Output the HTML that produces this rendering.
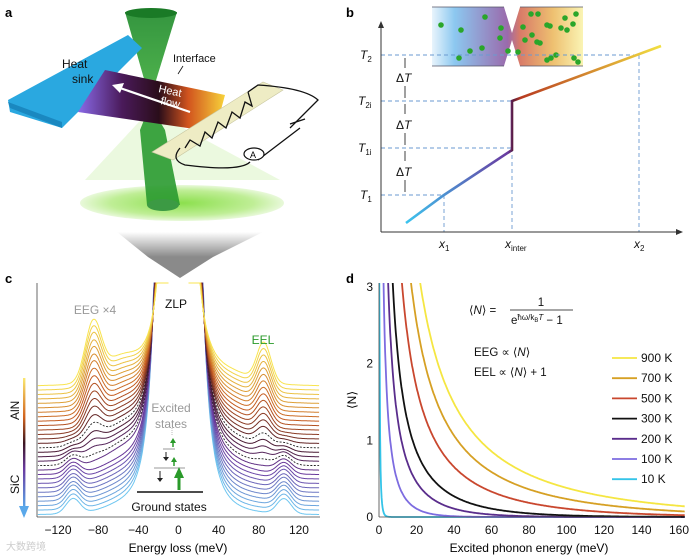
<!DOCTYPE html>
<html><head><meta charset="utf-8"><style>
html,body{margin:0;padding:0;background:#fff}
svg{display:block;font-family:"Liberation Sans",Arial,sans-serif}
</style></head><body>
<svg id="fig" width="693" height="558" viewBox="0 0 693 558" xmlns="http://www.w3.org/2000/svg">
<defs>
<linearGradient id="gBar" x1="0" y1="0" x2="1" y2="0"><stop offset="0" stop-color="#8a6ae8"/><stop offset="0.3" stop-color="#4a1a5a"/><stop offset="0.55" stop-color="#2a0d1a"/><stop offset="0.75" stop-color="#d2541e"/><stop offset="1" stop-color="#f7d23a"/></linearGradient>
<linearGradient id="gGrey" x1="0" y1="0" x2="0" y2="1"><stop offset="0" stop-color="#fff"/><stop offset="1" stop-color="#8a8a8a"/></linearGradient>
<radialGradient id="gGlow"><stop offset="0" stop-color="#7fdc3a"/><stop offset="0.7" stop-color="#b8ec8a"/><stop offset="1" stop-color="#e6f8d6"/></radialGradient>
<linearGradient id="gCone" x1="0" y1="0" x2="0" y2="1"><stop offset="0" stop-color="#1e8a2a"/><stop offset="1" stop-color="#3fae3a"/></linearGradient>
<linearGradient id="gInset" x1="0" y1="0" x2="1" y2="0"><stop offset="0" stop-color="#e8f4fc"/><stop offset="0.15" stop-color="#8cc8f0"/><stop offset="0.5" stop-color="#9a6aac"/><stop offset="0.58" stop-color="#d87a68"/><stop offset="0.8" stop-color="#eec070"/><stop offset="1" stop-color="#faf4b4"/></linearGradient>
<linearGradient id="gLine" x1="406" y1="0" x2="661" y2="0" gradientUnits="userSpaceOnUse"><stop offset="0" stop-color="#3cc4ee"/><stop offset="0.4" stop-color="#6a3aa0"/><stop offset="0.42" stop-color="#5a1a3a"/><stop offset="0.45" stop-color="#b83a20"/><stop offset="1" stop-color="#f2e040"/></linearGradient>
<linearGradient id="gCbar" x1="0" y1="0" x2="0" y2="1"><stop offset="0" stop-color="#fbe870"/><stop offset="0.3" stop-color="#d2641e"/><stop offset="0.5" stop-color="#3b1520"/><stop offset="0.7" stop-color="#6a3aa0"/><stop offset="1" stop-color="#5aa8ea"/></linearGradient>
<clipPath id="clipD"><rect x="379" y="283" width="306" height="240"/></clipPath>
</defs>

<g>
<text x="5" y="17" font-size="13" font-weight="bold">a</text>
<ellipse cx="182" cy="203" rx="102" ry="18" fill="url(#gGlow)" opacity="0.9"/>
<path d="M85,180 L150,110 L280,180 Z" fill="#d8f4c0" opacity="0.5"/>
<polygon points="125,12 177,12 150,100" fill="url(#gCone)" opacity="0.9"/>
<ellipse cx="151" cy="13" rx="26" ry="5" fill="#1a7a26"/>
<polygon points="140,130 150,105 165,130 180,205 147,205" fill="#2a9a30" opacity="0.9"/>
<ellipse cx="163" cy="205" rx="16" ry="6" fill="#3c9a44"/>
<polygon points="8,100 128,35 142,48 62,128 10,112" fill="#2aa8e0"/>
<polygon points="10,108 62,128 62,122 8,102" fill="#1a88c0"/>
<text x="62" y="68" font-size="12" fill="#111">Heat</text>
<text x="72" y="83" font-size="12" fill="#111">sink</text>
<polygon points="105,70 225,95 215,132 78,112" fill="url(#gBar)"/>
<line x1="190" y1="112" x2="120" y2="88" stroke="#fff" stroke-width="2.2"/>
<polygon points="112,85 124,83 120,93" fill="#fff"/>
<text x="158" y="92" font-size="11" fill="#fff" transform="rotate(12 158 92)">Heat</text>
<text x="160" y="104" font-size="11" fill="#fff" transform="rotate(12 160 104)">flow</text>
<text x="173" y="62" font-size="11" fill="#111">Interface</text>
<line x1="183" y1="66" x2="178" y2="74" stroke="#111" stroke-width="0.8"/>
<polygon points="152,152 263,82 283,90 173,160" fill="#eeecc4" stroke="#c8c6a0" stroke-width="0.6"/>
<path d="M248,92 L258,85 Q305,88 318,100 L290,128 M258,160 L300,128 M250,162 Q240,172 185,165 Q170,160 180,148 M185,148 L190,140 200,146 205,132 212,138 218,122 226,128 232,112 240,118 245,102 252,106 248,92" fill="none" stroke="#111" stroke-width="1.3"/>
<line x1="290" y1="124" x2="305" y2="119" stroke="#111" stroke-width="1.3"/>
<ellipse cx="254" cy="154" rx="10" ry="6" fill="#fff" stroke="#111" stroke-width="1.2"/>
<text x="250" y="158" font-size="9">A</text>
<polygon points="117,232 263,232 213,257 148,257" fill="url(#gGrey)"/>
<polygon points="148,257 213,257 180,278" fill="#8a8a8a"/>
</g>

<g>
<text x="346" y="17" font-size="13" font-weight="bold">b</text>
<polygon points="432,7 504,7 512,33 520,7 583,7 583,66 520,66 512,40 504,66 432,66" fill="url(#gInset)"/>
<line x1="432" y1="7" x2="504" y2="7" stroke="#556" stroke-width="0.8"/><line x1="520" y1="7" x2="583" y2="7" stroke="#556" stroke-width="0.8"/>
<line x1="432" y1="66" x2="504" y2="66" stroke="#556" stroke-width="0.8"/><line x1="520" y1="66" x2="583" y2="66" stroke="#556" stroke-width="0.8"/>
<g id="dots" fill="#2aa62a"></g>
<g stroke="#6a9ad0" stroke-dasharray="4,3" stroke-width="0.9" fill="none">
<line x1="381" y1="55" x2="639" y2="55"/><line x1="381" y1="101" x2="512" y2="101"/><line x1="381" y1="148" x2="512" y2="148"/><line x1="381" y1="195" x2="444" y2="195"/>
<line x1="444" y1="195" x2="444" y2="232"/><line x1="512" y1="148" x2="512" y2="232"/><line x1="639" y1="55" x2="639" y2="232"/>
</g>
<line x1="381" y1="232" x2="381" y2="26" stroke="#333" stroke-width="1"/><polygon points="378,28 384,28 381,21" fill="#333"/>
<line x1="381" y1="232" x2="678" y2="232" stroke="#333" stroke-width="1"/><polygon points="676,229 676,235 683,232" fill="#333"/>
<polyline points="406,223 444,195 512,150 512,101 661,46" fill="none" stroke="url(#gLine)" stroke-width="2.6"/>
<g font-size="12" font-style="italic" fill="#111">
<text x="360" y="59">T<tspan font-size="8" font-style="normal" dy="3">2</tspan></text>
<text x="358" y="105">T<tspan font-size="8" font-style="normal" dy="3">2i</tspan></text>
<text x="358" y="152">T<tspan font-size="8" font-style="normal" dy="3">1i</tspan></text>
<text x="360" y="199">T<tspan font-size="8" font-style="normal" dy="3">1</tspan></text>
<text x="439" y="248">x<tspan font-size="8" font-style="normal" dy="3">1</tspan></text>
<text x="505" y="248">x<tspan font-size="8" font-style="normal" dy="3">inter</tspan></text>
<text x="634" y="248">x<tspan font-size="8" font-style="normal" dy="3">2</tspan></text>
<text x="396" y="82" font-style="normal">Δ<tspan font-style="italic">T</tspan></text>
<text x="396" y="129" font-style="normal">Δ<tspan font-style="italic">T</tspan></text>
<text x="396" y="176" font-style="normal">Δ<tspan font-style="italic">T</tspan></text>
</g>
<g stroke="#111" stroke-width="0.8" fill="#111">
<line x1="405" y1="58" x2="405" y2="68"/><line x1="405" y1="86" x2="405" y2="98"/>
<line x1="405" y1="104" x2="405" y2="114"/><line x1="405" y1="133" x2="405" y2="145"/>
<line x1="405" y1="151" x2="405" y2="161"/><line x1="405" y1="180" x2="405" y2="192"/>
</g>
</g>

<g>
<text x="5" y="283" font-size="13" font-weight="bold">c</text>
<g id="spectra" fill="none"></g>
<line x1="37" y1="283" x2="37" y2="517" stroke="#444" stroke-width="0.8"/>
<line x1="37" y1="517" x2="320" y2="517" stroke="#444" stroke-width="0.8"/>
<g id="cTicks" font-size="12" text-anchor="middle" fill="#111"></g>
<text x="178" y="552" font-size="12" text-anchor="middle">Energy loss (meV)</text>
<text x="95" y="314" font-size="12" fill="#999" text-anchor="middle">EEG ×4</text>
<text x="176" y="308" font-size="12" fill="#111" text-anchor="middle">ZLP</text>
<text x="263" y="344" font-size="12" fill="#2a9a2a" text-anchor="middle">EEL</text>
<text x="171" y="412" font-size="12" fill="#999" text-anchor="middle">Excited</text>
<text x="171" y="428" font-size="12" fill="#999" text-anchor="middle">states</text>
<text x="169" y="511" font-size="12" fill="#111" text-anchor="middle">Ground states</text>
<line x1="137" y1="492" x2="203" y2="492" stroke="#111" stroke-width="1.5"/>
<line x1="154" y1="468" x2="185" y2="468" stroke="#999" stroke-width="1"/>
<line x1="163" y1="449" x2="175" y2="449" stroke="#999" stroke-width="1"/>
<line x1="179" y1="490" x2="179" y2="476" stroke="#2a9a2a" stroke-width="3"/><polygon points="174,478 184,478 179,467" fill="#2a9a2a"/>
<line x1="174" y1="466" x2="174" y2="461" stroke="#2a9a2a" stroke-width="1.5"/><polygon points="171,462 177,462 174,457" fill="#2a9a2a"/>
<line x1="173" y1="447" x2="173" y2="442" stroke="#2a9a2a" stroke-width="1.5"/><polygon points="170,443 176,443 173,438" fill="#2a9a2a"/>
<line x1="160" y1="471" x2="160" y2="479" stroke="#222"/><polygon points="157,478 163,478 160,482" fill="#222"/>
<line x1="166" y1="452" x2="166" y2="458" stroke="#222"/><polygon points="163,457 169,457 166,461" fill="#222"/>
<line x1="172" y1="428" x2="172" y2="436" stroke="#bbb" stroke-dasharray="1,1"/>
<rect x="23" y="378" width="2.4" height="130" fill="url(#gCbar)"/>
<polygon points="19,506 29,506 24,518" fill="#5aa8ea"/>
<text transform="translate(19,420) rotate(-90)" font-size="12" fill="#111">AlN</text>
<text transform="translate(19,494) rotate(-90)" font-size="12" fill="#111">SiC</text>
<text x="6" y="550" font-size="10" fill="#ccc" font-family="'Liberation Sans','Noto Sans CJK SC',sans-serif">大数跨境</text>
</g>

<g>
<text x="346" y="283" font-size="13" font-weight="bold">d</text>
<g id="nCurves" fill="none" clip-path="url(#clipD)"></g>
<line x1="379" y1="283" x2="379" y2="517" stroke="#444" stroke-width="0.8"/>
<line x1="379" y1="517" x2="681" y2="517" stroke="#444" stroke-width="0.8"/>
<g id="dTicks" font-size="12" fill="#111"></g>
<text x="529" y="552" font-size="12" text-anchor="middle">Excited phonon energy (meV)</text>
<text transform="translate(356,400) rotate(-90)" font-size="12" text-anchor="middle">⟨N⟩</text>
<g font-size="11.5" fill="#111">
<text x="469" y="314">⟨<tspan font-style="italic">N</tspan>⟩ =</text>
<text x="541" y="306" text-anchor="middle">1</text>
<line x1="510" y1="310" x2="573" y2="310" stroke="#111" stroke-width="0.8"/>
<text x="511" y="324">e<tspan font-size="8" dy="-4">ħω/k</tspan><tspan font-size="6" dy="2">B</tspan><tspan font-size="8" font-style="italic" dy="-2">T</tspan><tspan dy="4"> − 1</tspan></text>
<text x="474" y="356">EEG ∝ ⟨<tspan font-style="italic">N</tspan>⟩</text>
<text x="474" y="376">EEL ∝ ⟨<tspan font-style="italic">N</tspan>⟩ + 1</text>
</g>
<g id="legend" font-size="12" fill="#111"></g>
</g>
</svg>
<script>
const dotX=[441,461,485,482,459,470,501,500,508,531,523,518,538,550,540,556,551,565,576,567,574,525,537,547,561,573,578,532,547];
const dotY=[25,30,17,48,58,51,28,38,51,14,27,52,14,26,43,55,58,18,14,30,58,40,42,25,28,24,62,35,60];
const NS='http://www.w3.org/2000/svg';
const dg=document.getElementById('dots');
for(let i=0;i<dotX.length;i++){const c=document.createElementNS(NS,'circle');c.setAttribute('cx',dotX[i]);c.setAttribute('cy',dotY[i]);c.setAttribute('r',2.8);


dg.appendChild(c);}

const cTickVals=[-120,-80,-40,0,40,80,120];
const nSpectra=30;
const alnPeakLeft=-85, alnPeakRight=85, sicPeakLeft=-105, sicPeakRight=105;
const alnAmpLeft=[0,0,0,0,0,0,0,0,0,0,2,4,7,10,13,17,20,24,27,30,33,36,39,42,44,47,49,52,54,56];
const alnAmpRight=[0,0,0,0,0,0,0,0,0,0,1,3,5,7,9,11,13,15,17,19,21,23,25,27,29,31,33,35,37,39];
const sicAmp=[15,15,15,15,14,14,13,13,12,11,10,9,8,6,5,4,3,2,1,0,0,0,0,0,0,0,0,0,0,0];
const dashedIdx=[11,15];
const sx=e=>178.5+e*1.004;
const baseY=i=>515-i*(128/29);
const col=t=>{const s=[[0,[110,198,240]],[0.3,[106,58,160]],[0.5,[70,22,40]],[0.72,[196,90,32]],[1,[248,228,80]]];
for(let k=0;k<s.length-1;k++){if(t<=s[k+1][0]){const f=(t-s[k][0])/(s[k+1][0]-s[k][0]);return 'rgb('+s[k][1].map((v,j)=>Math.round(v+(s[k+1][1][j]-v)*f)).join(',')+')';}}return 'rgb(248,228,80)';};
const gs=(e,m,w)=>Math.exp(-((e-m)*(e-m))/(2*w*w));
const sp=document.getElementById('spectra');
function drawSide(i,sign){
 const t=i/(nSpectra-1);let d='';
 const n=3.5-1.2*t, r30=115*(1-t)+48*t, K=r30*Math.pow(30,n);
 for(let k=0;k<=220;k++){const a=10+k*(130/220);const e=sign*a;
  let rise=K/Math.pow(a,n);
  let y=baseY(i)-rise;
  if(sign<0){y-=alnAmpLeft[i]*gs(e,alnPeakLeft,8)+(8+14*t)*gs(e,-58,18)*(i>9?1:0.6)+sicAmp[i]*gs(e,sicPeakLeft,7);}
  else{y-=alnAmpRight[i]*gs(e,alnPeakRight,7)+6*t*gs(e,55,18)+sicAmp[i]*gs(e,sicPeakRight,7);}
  if(y<283)y=283;
  d+=(k?'L':'M')+sx(e).toFixed(1)+','+y.toFixed(1);}
 const p=document.createElementNS(NS,'path');p.setAttribute('d',d);
 const dashed=dashedIdx.includes(i);
 p.setAttribute('stroke',dashed?'#222':col(t));p.setAttribute('stroke-width',dashed?0.9:1);
 if(dashed)p.setAttribute('stroke-dasharray','2,1.5');
 
 
 sp.appendChild(p);}
for(let i=0;i<nSpectra;i++){drawSide(i,-1);drawSide(i,1);}
const ct=document.getElementById('cTicks');
cTickVals.forEach(v=>{const tx=document.createElementNS(NS,'text');tx.setAttribute('x',sx(v));tx.setAttribute('y',534);tx.textContent=v<0?'−'+(-v):v;


ct.appendChild(tx);});

const temps=[900,700,500,300,200,100,10];
const tempLabels=['900 K','700 K','500 K','300 K','200 K','100 K','10 K'];
const tempColors=['#f5e642','#d6a024','#c9472e','#111111','#5a2d8c','#7d6ce0','#34c4e8'];
const dXTicks=[0,20,40,60,80,100,120,140,160];
const dYTicks=[0,1,2,3];
const kB=0.08617;
const dx=e=>379+e*(300/160), dy=n=>517-n*(230/3);
const nc=document.getElementById('nCurves');
temps.slice().reverse().forEach((T,ri)=>{const i=temps.length-1-ri;let d='';
 for(let k=0;k<=600;k++){const e=0.02+k*(163/600);let n=1/(Math.exp(e/(kB*T))-1);if(n>4)n=4;d+=(k?'L':'M')+dx(e).toFixed(1)+','+dy(n).toFixed(1);}
 const p=document.createElementNS(NS,'path');p.setAttribute('d',d);p.setAttribute('stroke',tempColors[i]);p.setAttribute('stroke-width',1.8);
 
 
 nc.appendChild(p);});
const dt=document.getElementById('dTicks');
dXTicks.forEach(v=>{const tx=document.createElementNS(NS,'text');tx.setAttribute('x',dx(v));tx.setAttribute('y',534);tx.setAttribute('text-anchor','middle');tx.textContent=v;


dt.appendChild(tx);});
dYTicks.forEach(v=>{const tx=document.createElementNS(NS,'text');tx.setAttribute('x',373);tx.setAttribute('y',dy(v)+4);tx.setAttribute('text-anchor','end');tx.textContent=v;


dt.appendChild(tx);});
const lg=document.getElementById('legend');
tempLabels.forEach((l,i)=>{const y=358+i*20.2;
 const ln=document.createElementNS(NS,'line');ln.setAttribute('x1',612);ln.setAttribute('x2',637);ln.setAttribute('y1',y);ln.setAttribute('y2',y);ln.setAttribute('stroke',tempColors[i]);ln.setAttribute('stroke-width',1.8);
 
 
 lg.appendChild(ln);
 const tx=document.createElementNS(NS,'text');tx.setAttribute('x',641);tx.setAttribute('y',y+4);tx.textContent=l;
 
 
 lg.appendChild(tx);});
</script>
</body></html>
